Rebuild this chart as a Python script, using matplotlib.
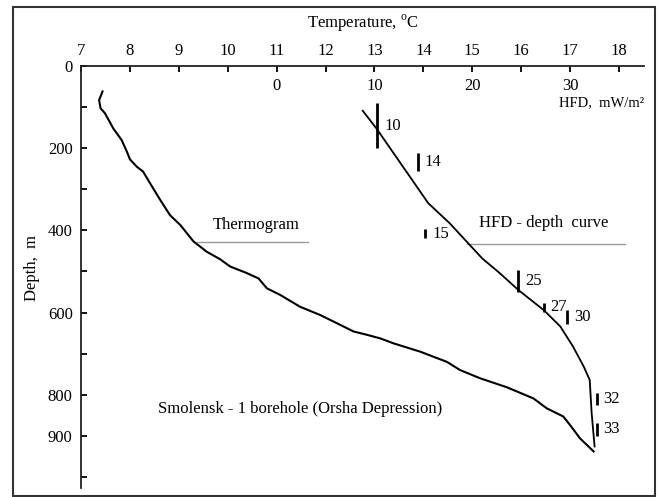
import matplotlib
matplotlib.use("Agg")
import matplotlib.pyplot as plt
from matplotlib.lines import Line2D
from matplotlib.patches import Rectangle
from matplotlib.ticker import FixedLocator, FixedFormatter

plt.rcParams['font.family'] = ['Liberation Serif', 'DejaVu Serif']
plt.rcParams['mathtext.fontset'] = 'custom'
plt.rcParams['mathtext.rm'] = 'Liberation Serif'

# ---- data ----
thermo_T = [7.44, 7.37, 7.40, 7.49, 7.66, 7.83, 7.94, 8.00, 8.14, 8.27, 8.41, 8.62,
            8.82, 9.03, 9.30, 9.57, 9.84, 10.05, 10.39, 10.63, 10.80, 11.07, 11.48,
            11.89, 12.30, 12.57, 12.84, 13.12, 13.39, 13.93, 14.48, 14.75, 15.16,
            15.71, 16.25, 16.52, 16.86, 17.00, 17.20, 17.48]
thermo_D = [62, 83, 103, 115, 152, 180, 209, 227, 245, 257, 285, 326, 363, 387, 427,
            452, 470, 488, 504, 517, 541, 557, 586, 606, 630, 646, 654, 663, 675, 695,
            720, 740, 760, 782, 809, 833, 853, 874, 906, 938]

hfd_val = [8.8, 10.2, 15.5, 17.7, 21.0, 22.8, 24.7, 27.3, 29.0, 30.3, 31.4, 32.0, 32.2, 32.5]
hfd_D = [109, 152, 334, 383, 468, 504, 545, 594, 634, 683, 732, 764, 845, 926]

bar_hfd = [10.3, 14.4, 15.2, 24.7, 27.3, 29.7, 32.7, 32.7]
bar_top = [91, 212, 397, 496, 576, 594, 796, 869]
bar_bot = [200, 255, 419, 549, 598, 628, 825, 900]
bar_labels = ['10', '14', '15', '25', '27', '30', '32', '33']

temp_ticks = [7, 8, 9, 10, 11, 12, 13, 14, 15, 16, 17, 18]
hfd_ticks = [0, 10, 20, 30]
depth_ticks = [0, 100, 200, 300, 400, 500, 600, 700, 800, 900, 1000]
depth_labels = ['0', '', '200', '', '400', '', '600', '', '800', '900', '']

T_MIN, T_MAX = 7, 18.51
D_MAX = 1027


def t_to_hfd(t):
    return (t - 11) * 5


# ---- figure ----
fig = plt.figure(figsize=(6.59, 4.97), dpi=100)
ax = fig.add_axes([81 / 659, 1 - 488 / 497, 563 / 659, 422 / 497])

# HFD axis (twin, created first so that the main axis settings stick)
ax2 = ax.twiny()

ax.plot(thermo_T, thermo_D, color='black', lw=1.5)
ax.set_xlim(T_MIN, T_MAX)
ax.set_ylim(D_MAX, 0)

for s in ['right', 'bottom']:
    ax.spines[s].set_visible(False)
for s in ['left', 'top']:
    ax.spines[s].set_linewidth(1.3)
    ax.spines[s].set_color('#222222')

ax.xaxis.tick_top()
ax.xaxis.set_label_position('top')
ax.set_xticks(temp_ticks)
ax.set_xticklabels([str(t) for t in temp_ticks])
ax.tick_params(axis='x', which='both', bottom=False, labelbottom=False,
               top=True, labeltop=True,
               direction='in', length=4, width=1.3, pad=5, labelsize=12)
ax.yaxis.set_major_locator(FixedLocator(depth_ticks))
ax.yaxis.set_major_formatter(FixedFormatter(depth_labels))
ax.tick_params(axis='y', direction='in', length=4, width=1.3, pad=6, labelsize=12)

ax.set_xlabel(r'Temperature, $^{\mathrm{o}}$C', fontsize=12)
ax.xaxis.set_label_coords(0.5, 1.092)
ax.set_ylabel('Depth,  m', fontsize=12)
ax.yaxis.set_label_coords(-0.073, 0.521)

ax2.set_xlim(t_to_hfd(T_MIN), t_to_hfd(T_MAX))
ax2.set_ylim(D_MAX, 0)
for s in ax2.spines.values():
    s.set_visible(False)
ax2.set_xticks(hfd_ticks)
ax2.set_xticklabels([str(h) for h in hfd_ticks])
ax2.tick_params(axis='x', which='both', bottom=False, labelbottom=False,
                top=True, labeltop=True, length=0, pad=-20, labelsize=12)

ax2.plot(hfd_val, hfd_D, color='black', lw=1.3)
ax2.vlines(bar_hfd, bar_top, bar_bot, color='black', lw=2.0)
for h, t, b, lab in zip(bar_hfd, bar_top, bar_bot, bar_labels):
    ax2.annotate(lab, xy=(h, (t + b) / 2), xytext=(5, 0), textcoords='offset points',
                 va='center', ha='left', fontsize=12)

# annotations
ax.text(1.0, 0.912, 'HFD,  mW/m\u00b2', transform=ax.transAxes, ha='right',
        va='center', fontsize=10.5)
ax.text(0.312, 0.623, 'Thermogram', transform=ax.transAxes, ha='center',
        va='center', fontsize=12)
ax.add_line(Line2D([0.206, 0.403], [0.583, 0.583], transform=ax.transAxes,
                   color='#999999', lw=1.0))
ax.text(0.822, 0.628, 'HFD - depth  curve', transform=ax.transAxes, ha='center',
        va='center', fontsize=12)
ax.add_line(Line2D([0.686, 0.966], [0.578, 0.578], transform=ax.transAxes,
                   color='#999999', lw=1.0))
ax.text(0.389, 0.187, 'Smolensk - 1 borehole (Orsha Depression)', transform=ax.transAxes,
        ha='center', va='center', fontsize=12)

# outer frame
fig.patches.append(Rectangle((13 / 659, 1 / 497), 642 / 659, 489 / 497,
                             transform=fig.transFigure, fill=False,
                             edgecolor='#333333', lw=1.5))

fig.savefig('out.png', dpi=100)
